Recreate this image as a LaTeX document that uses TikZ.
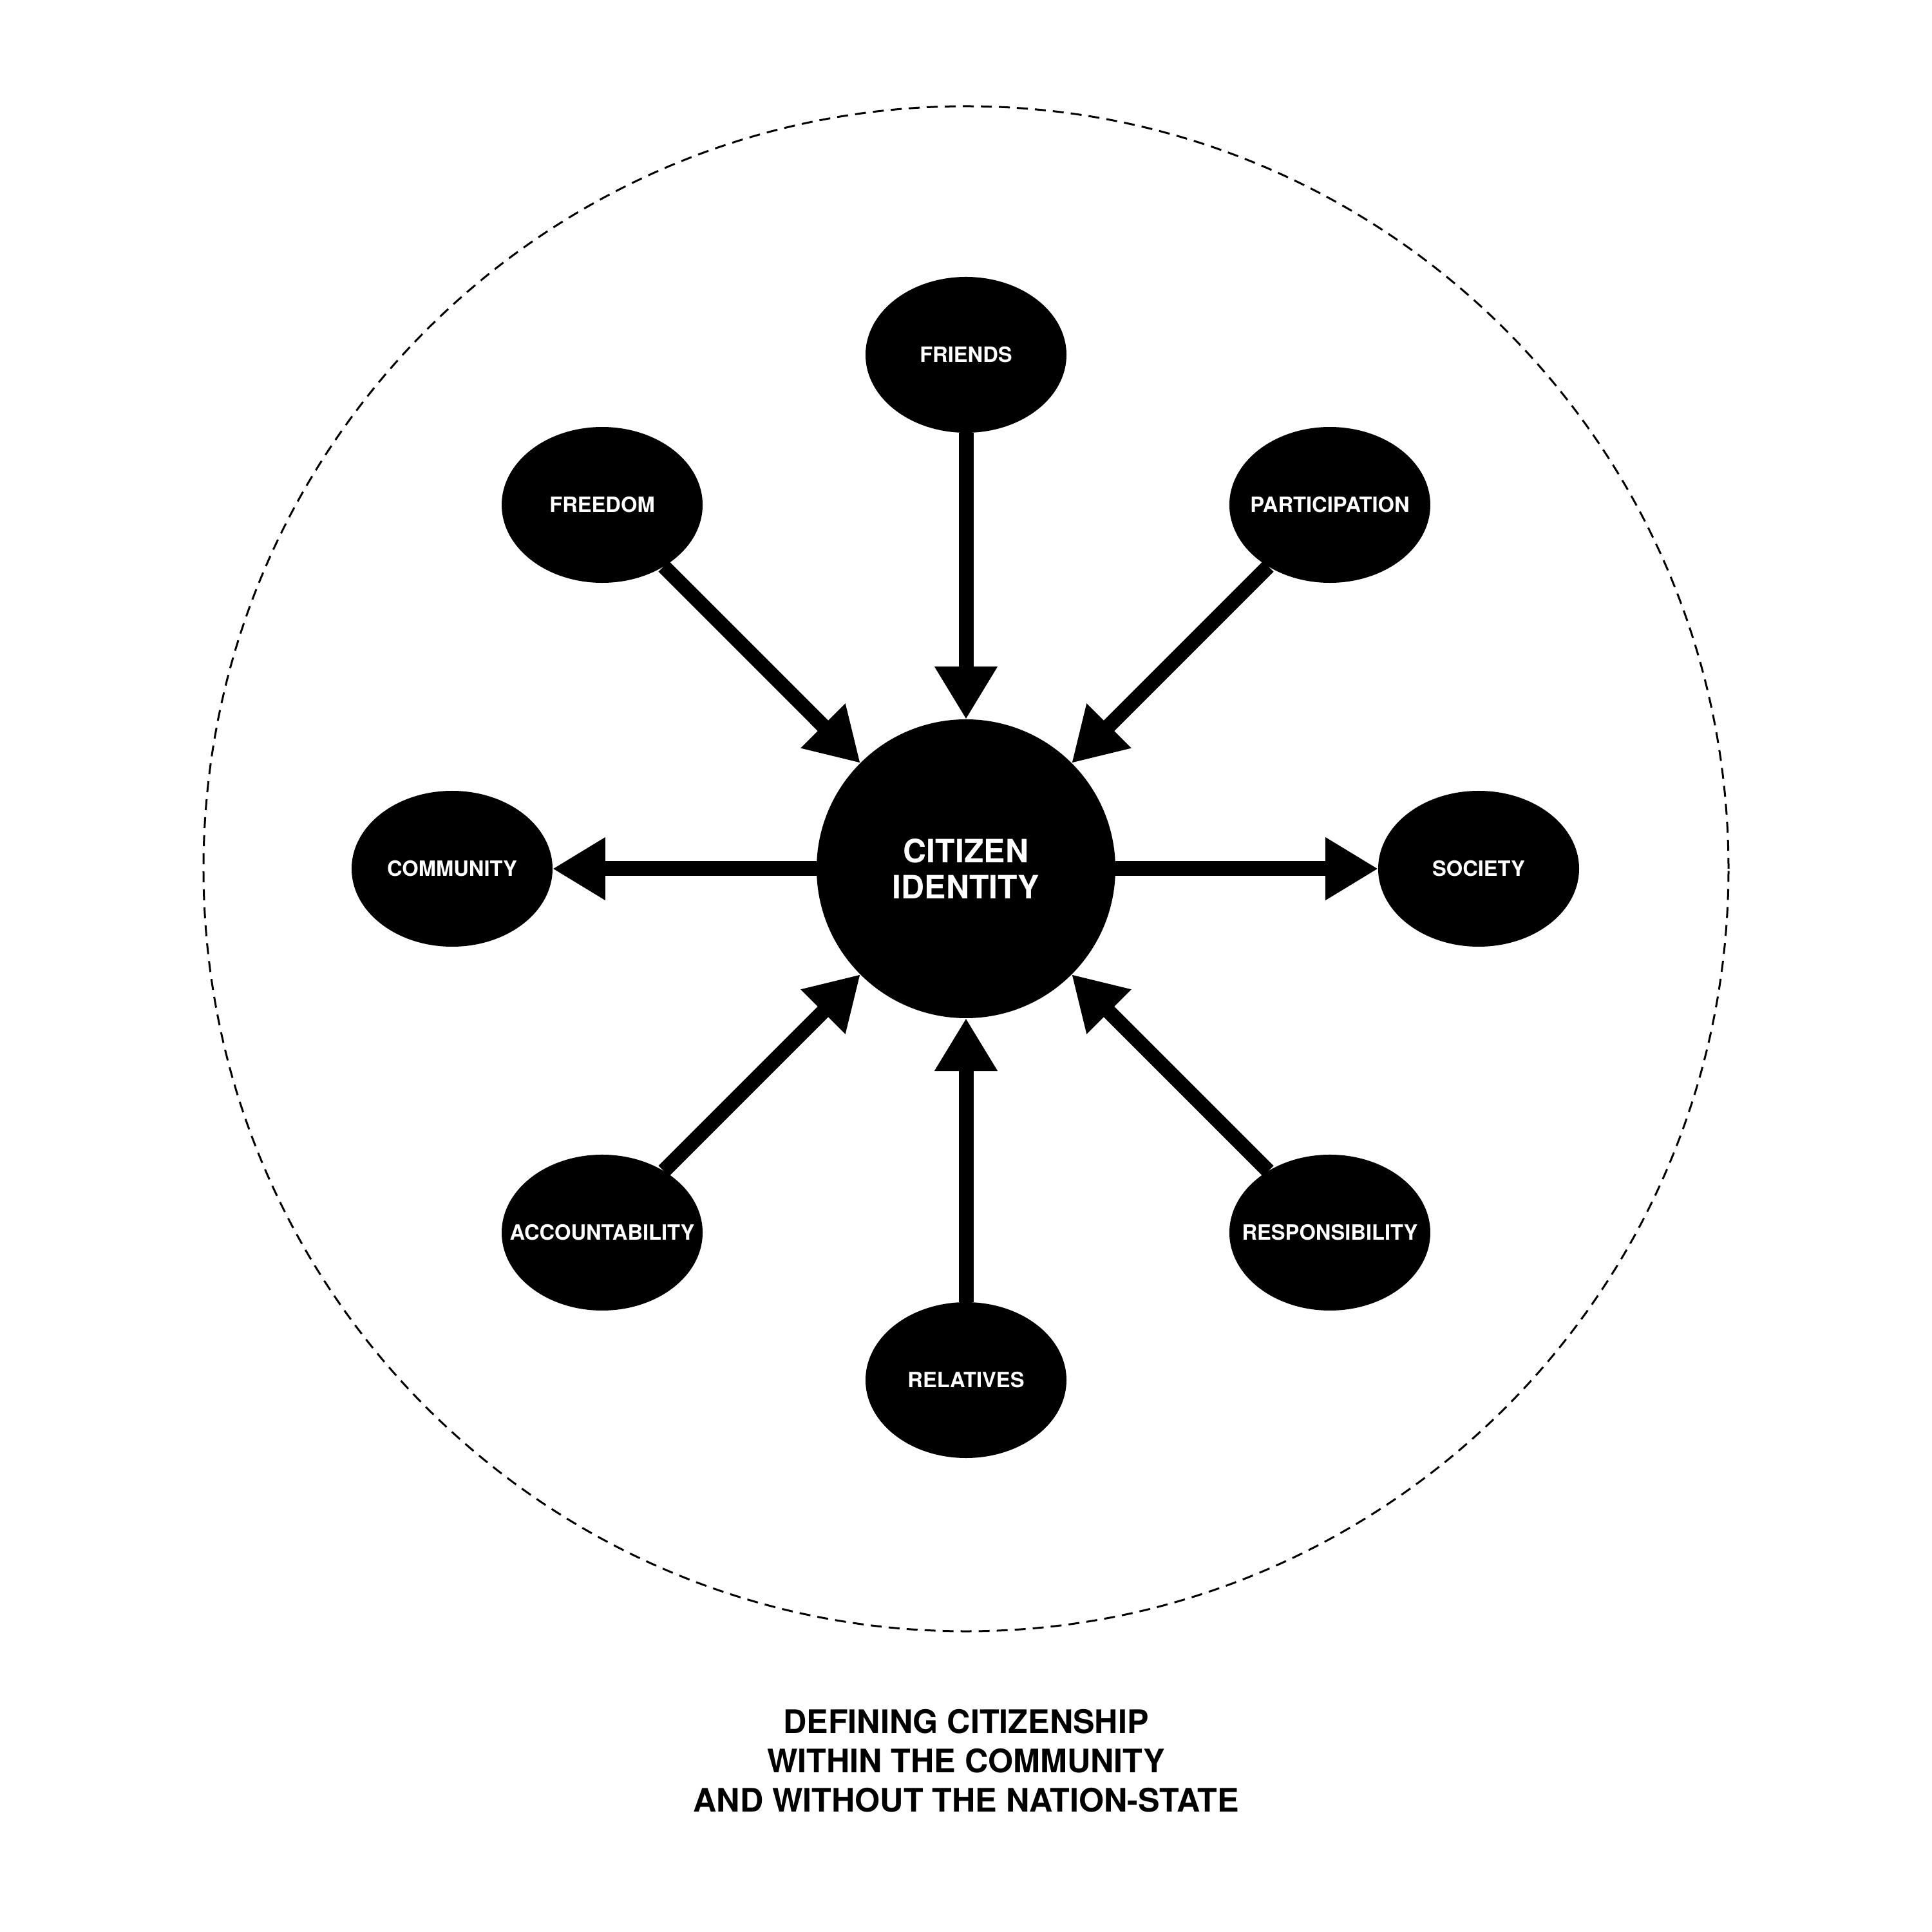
\documentclass[tikz,border=0pt]{standalone}
\usepackage{fontspec}
\setmainfont{TeX Gyre Heros}
\usetikzlibrary{shapes.geometric,arrows.meta}
\newcommand{\ovaltext}[1]{\makebox[0pt]{#1}}
\tikzset{
	idea/.style={ellipse, fill=black, text=white, minimum width=3.12cm, minimum height=2.42cm, inner sep=0pt, outer sep=0pt, font=\fontsize{9.3}{11}\selectfont\bfseries},
	core/.style={circle, fill=black, text=white, minimum size=4.64cm, inner sep=0pt, outer sep=0pt, align=center, font=\fontsize{14.2}{16.2}\selectfont\bfseries},
	link/.style={line width=0.23cm, -{Triangle[length=0.82cm, width=0.92cm]}},
}
\begin{document}
\begin{tikzpicture}
		\useasboundingbox (-15,-16.51) rectangle (15,13.49);
		\draw[line width=0.03cm, dash pattern=on 0.17cm off 0.11cm] (0,0) circle (11.84cm);
		\node[core] (cit) at (0,0) {CITIZEN\\IDENTITY};
		\node[idea] (friends) at (90:7.98) {\ovaltext{FRIENDS}};
		\node[idea] (freedom) at (135:7.99) {\ovaltext{FREEDOM}};
		\node[idea] (particip) at (45:7.99) {\ovaltext{PARTICIPATION}};
		\node[idea] (community) at (180:7.98) {\ovaltext{COMMUNITY}};
		\node[idea] (society) at (0:7.96) {\ovaltext{SOCIETY}};
		\node[idea] (account) at (225:7.99) {\ovaltext{ACCOUNTABILITY}};
		\node[idea] (respons) at (315:7.99) {\ovaltext{RESPONSIBILITY}};
		\node[idea] (relatives) at (270:7.94) {\ovaltext{RELATIVES}};
		\draw[link] (friends) -- (cit);
		\draw[link] (freedom) -- (cit);
		\draw[link] (particip) -- (cit);
		\draw[link] (cit) -- (community);
		\draw[link] (cit) -- (society);
		\draw[link] (account) -- (cit);
		\draw[link] (respons) -- (cit);
		\draw[link] (relatives) -- (cit);
		\node[align=center, font=\fontsize{14.3}{17.4}\selectfont\bfseries] (title) at (0,-13.85) {DEFINING CITIZENSHIP\\WITHIN THE COMMUNITY\\AND WITHOUT THE NATION-STATE};
\end{tikzpicture}
\end{document}
